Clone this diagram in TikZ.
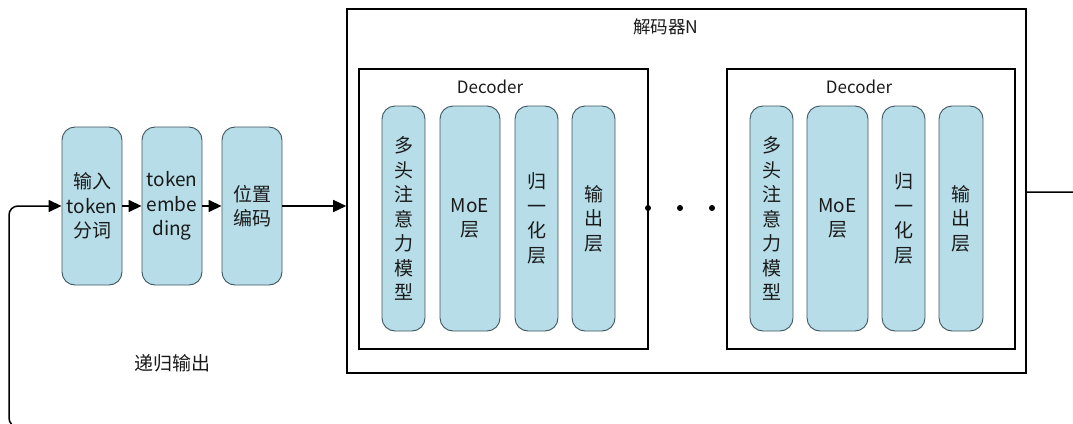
\documentclass[tikz,border=0pt]{standalone}
\usepackage{fontspec}
\setmainfont{Noto Sans CJK SC}
\usetikzlibrary{arrows.meta}
\definecolor{boxfill}{HTML}{B7DDE8}
\definecolor{boxdraw}{HTML}{3F5560}
\definecolor{txt}{HTML}{1A1A1A}
\tikzset{
  rbox/.style={draw=boxdraw, fill=boxfill, line width=0.9pt, rounded corners=13pt,
    align=center, inner sep=0pt, text=txt, font=\fontsize{19}{24.5}\selectfont},
  frame/.style={draw=black, line width=1.6pt, inner sep=0pt},
  conn/.style={draw=black, line width=1.5pt},
  arr/.style={conn, -{Triangle[length=13pt,width=12pt]}},
  lbl/.style={text=txt, inner sep=0pt},
  dotn/.style={circle, fill=black, inner sep=0pt, minimum size=6pt}
}
\begin{document}
\begin{tikzpicture}[x=1pt,y=-1pt]
\useasboundingbox (0,0) rectangle (1073,423);
\clip (0,0) rectangle (1073,423);
% left chain
\node[rbox, minimum width=60pt, minimum height=158pt] (b1) at (92,206) {输入\\token\\分词};
\node[rbox, minimum width=60pt, minimum height=158pt] (b2) at (172,206) {token\\embe\\ding};
\node[rbox, minimum width=60pt, minimum height=158pt] (b3) at (252,206) {位置\\编码};
% outer frame
\node[frame, minimum width=679pt, minimum height=364pt] (outer) at (686.5,191) {};
\node[lbl, font=\fontsize{17.5}{20}\selectfont] (title) at (666,27) {解码器N};
% decoder 1
\node[frame, minimum width=289pt, minimum height=280pt] (d1) at (503.5,209) {};
\node[lbl, font=\fontsize{17}{20}\selectfont] (d1l) at (490,87) {Decoder};
\node[rbox, minimum width=43pt, minimum height=225pt] (a1) at (403.5,218.5) {多\\头\\注\\意\\力\\模\\型};
\node[rbox, minimum width=60pt, minimum height=225pt] (m1) at (470,218.5) {MoE\\层};
\node[rbox, minimum width=43pt, minimum height=225pt] (n1) at (536.5,218.5) {归\\一\\化\\层};
\node[rbox, minimum width=43pt, minimum height=225pt] (o1) at (593.5,218.5) {输\\出\\层};
% decoder 2
\node[frame, minimum width=288pt, minimum height=280pt] (d2) at (871,209) {};
\node[lbl, font=\fontsize{17}{20}\selectfont] (d2l) at (859,87) {Decoder};
\node[rbox, minimum width=43pt, minimum height=225pt] (a2) at (771.5,218.5) {多\\头\\注\\意\\力\\模\\型};
\node[rbox, minimum width=61pt, minimum height=225pt] (m2) at (837.5,218.5) {MoE\\层};
\node[rbox, minimum width=43pt, minimum height=225pt] (n2) at (903.5,218.5) {归\\一\\化\\层};
\node[rbox, minimum width=44pt, minimum height=225pt] (o2) at (961,218.5) {输\\出\\层};
% dots
\node[dotn] (p1) at (648,208) {};
\node[dotn] (p2) at (680,208) {};
\node[dotn] (p3) at (712,208) {};
% label
\node[lbl, font=\fontsize{19}{22}\selectfont] (rec) at (172,363) {递归输出};
% arrows
\draw[arr] (b1.east) -- (b2.west);
\draw[arr] (b2.east) -- (b3.west);
\draw[arr] (b3.east) -- (b3.east -| outer.west);
% feedback
\coordinate (rt) at (1090,192);
\coordinate (rb) at (1090,427);
\coordinate (lb) at (9,427);
\coordinate (lt) at (9,206);
\draw[arr, rounded corners=9pt] (outer.east |- rt) -- (rt) -- (rb) -- (lb) -- (lt) -- (b1.west);
\end{tikzpicture}
\end{document}
